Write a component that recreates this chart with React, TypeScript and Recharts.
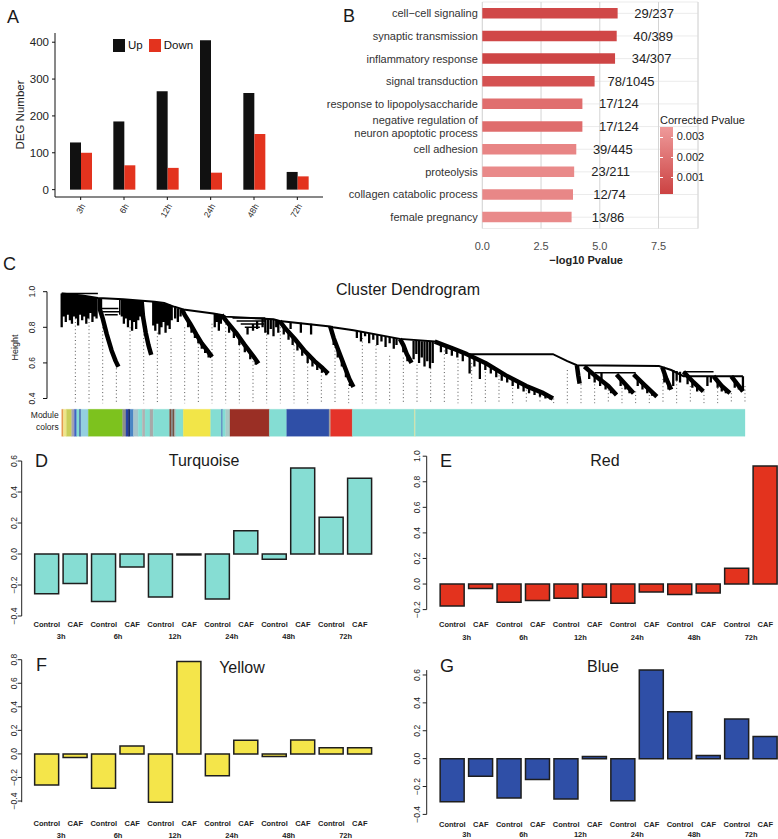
import React from "react";
import {
  Bar, BarChart, CartesianGrid, Cell, ComposedChart, LabelList, Legend, Line, ReferenceLine, XAxis, YAxis,
} from "recharts";

const FONT = '"Liberation Sans", Arial, Helvetica, sans-serif';

// ---- A: DEG numbers per time point
const DEG_TIMES = ["3h", "6h", "12h", "24h", "48h", "72h"];
const DEG_UP = [128, 185, 267, 405, 262, 48];
const DEG_DOWN = [100, 66, 59, 46, 151, 36];
const DEG_TICKS = [0, 100, 200, 300, 400];
const DEG_SERIES = ["Up", "Down"];

// ---- B: GO enrichment
const GO_TERMS = [
  "cell\u2212cell signaling", "synaptic transmission", "inflammatory response", "signal transduction",
  "response to lipopolysaccharide", "negative regulation of\nneuron apoptotic process", "cell adhesion",
  "proteolysis", "collagen catabolic process", "female pregnancy",
];
const GO_LOGP = [5.76, 5.72, 5.65, 4.78, 4.26, 4.26, 4.0, 3.91, 3.86, 3.8];
const GO_RATIO = ["29/237", "40/389", "34/307", "78/1045", "17/124", "17/124", "39/445", "23/211", "12/74", "13/86"];
const GO_FILL = ["#D04848", "#D04747", "#CE4545", "#D55252", "#E06E6E", "#DF6C6C", "#E88585", "#E98A8A", "#E88787", "#E98A8A"];
const GO_TICKS = [0, 2.5, 5, 7.5];
const GO_MINOR = [1.25, 3.75, 6.25, 8.75];
const PVAL_LABELS = ["0.003", "0.002", "0.001"];

// ---- C: dendrogram, leaf position u (0..1000) and merge height h
type Pt = [number, number];
const DENDRO_BACKBONE: Pt[] = [
  [0, 0.99], [30, 0.978], [53, 0.965], [90, 0.957], [136, 0.944], [150, 0.936], [165, 0.915], [178, 0.9],
  [222, 0.878], [234, 0.87], [240, 0.86], [310, 0.845], [319, 0.835], [393, 0.805], [397, 0.8], [427, 0.784],
  [495, 0.735], [546, 0.72], [593, 0.649], [719, 0.649], [740, 0.61], [754, 0.587], [874, 0.582], [892, 0.56],
  [910, 0.525], [997, 0.525],
];
const DENDRO_FANS: Pt[][] = [
  [[56, 0.963], [56, 0.9], [60, 0.85], [66, 0.76], [73, 0.67], [79, 0.61], [83, 0.578]],
  [[117, 0.948], [119, 0.86], [123, 0.77], [127, 0.7], [131, 0.645]],
  [[176, 0.9], [180, 0.87], [188, 0.82], [197, 0.76], [205, 0.71], [213, 0.67], [220, 0.634]],
  [[234, 0.87], [242, 0.83], [255, 0.77], [268, 0.7], [280, 0.64], [288, 0.597]],
  [[319, 0.835], [328, 0.79], [340, 0.74], [355, 0.67], [370, 0.61], [382, 0.57], [390, 0.54]],
  [[393, 0.805], [398, 0.74], [406, 0.66], [414, 0.58], [421, 0.51], [427, 0.465]],
  [[495, 0.735], [500, 0.7], [505, 0.65], [512, 0.6]],
  [[546, 0.72], [570, 0.685], [593, 0.649], [620, 0.6], [650, 0.53], [680, 0.47], [705, 0.43], [719, 0.4]],
  [[754, 0.587], [756, 0.53], [758, 0.484]],
  [[765, 0.58], [780, 0.53], [800, 0.47], [812, 0.42]],
  [[812, 0.535], [825, 0.48], [837, 0.43]],
  [[837, 0.535], [852, 0.48], [871, 0.41]],
  [[879, 0.575], [885, 0.51], [892, 0.45]],
  [[910, 0.55], [925, 0.49], [939, 0.44]],
  [[954, 0.525], [966, 0.47], [978, 0.43]],
  [[980, 0.525], [990, 0.475], [997, 0.44]],
];
// nested horizontal merges
const DENDRO_SHELVES: Pt[][] = [
  [[58, 0.906], [83, 0.906]], [[60, 0.888], [85, 0.888]], [[63, 0.87], [82, 0.87]], [[85, 0.96], [85, 0.87]],
  [[250, 0.852], [298, 0.852]], [[256, 0.835], [298, 0.835]], [[262, 0.818], [296, 0.818]], [[268, 0.8], [290, 0.8]],
  [[780, 0.545], [840, 0.545]], [[910, 0.55], [954, 0.55]], [[0, 0.99], [53, 0.99]],
];
// vertical drips: [u, top, bottom]
const DENDRO_DRIPS: [number, number, number][] = [
  [0, 0.99, 0.8], [3, 0.99, 0.86], [6, 0.988, 0.83], [9, 0.987, 0.87], [12, 0.986, 0.84], [15, 0.985, 0.82],
  [18, 0.984, 0.86], [21, 0.983, 0.85], [24, 0.982, 0.81], [27, 0.98, 0.87], [30, 0.978, 0.84], [33, 0.977, 0.86],
  [36, 0.975, 0.82], [39, 0.973, 0.85], [42, 0.971, 0.88], [45, 0.969, 0.83], [48, 0.967, 0.86], [51, 0.965, 0.85],
  [88, 0.958, 0.86], [91, 0.957, 0.82], [94, 0.956, 0.85], [97, 0.955, 0.8], [100, 0.955, 0.84], [103, 0.954, 0.78],
  [106, 0.953, 0.83], [109, 0.952, 0.79], [112, 0.951, 0.84], [115, 0.95, 0.86],
  [134, 0.944, 0.81], [137, 0.942, 0.78], [140, 0.94, 0.82], [143, 0.938, 0.76], [146, 0.936, 0.8], [149, 0.934, 0.83],
  [152, 0.932, 0.77], [155, 0.93, 0.81], [158, 0.926, 0.79], [161, 0.92, 0.84], [166, 0.912, 0.85], [170, 0.906, 0.83],
  [174, 0.902, 0.86],
  [185, 0.835, 0.8], [190, 0.805, 0.77], [195, 0.775, 0.74], [200, 0.745, 0.71], [205, 0.71, 0.68], [210, 0.685, 0.655],
  [215, 0.66, 0.63], [224, 0.877, 0.8], [227, 0.876, 0.83], [230, 0.874, 0.78], [233, 0.872, 0.82],
  [245, 0.82, 0.77], [252, 0.785, 0.74], [260, 0.75, 0.7], [268, 0.71, 0.66], [276, 0.665, 0.62], [284, 0.62, 0.59],
  [272, 0.8, 0.76], [280, 0.818, 0.78], [286, 0.835, 0.79], [294, 0.852, 0.8], [298, 0.852, 0.77],
  [302, 0.846, 0.76], [306, 0.845, 0.79], [310, 0.844, 0.75], [314, 0.842, 0.8], [317, 0.84, 0.77],
  [325, 0.81, 0.76], [332, 0.78, 0.73], [338, 0.75, 0.7], [345, 0.72, 0.67], [352, 0.685, 0.64], [360, 0.65, 0.6],
  [367, 0.62, 0.58], [374, 0.6, 0.56], [381, 0.57, 0.545], [387, 0.55, 0.53], [335, 0.83, 0.79], [350, 0.826, 0.77],
  [365, 0.82, 0.76], [398, 0.75, 0.7], [404, 0.68, 0.63], [410, 0.62, 0.58], [416, 0.56, 0.52], [422, 0.5, 0.47],
  [432, 0.78, 0.74], [438, 0.776, 0.72], [444, 0.772, 0.75], [450, 0.768, 0.71], [456, 0.764, 0.73], [462, 0.76, 0.7],
  [468, 0.755, 0.72], [474, 0.75, 0.69], [480, 0.745, 0.71], [486, 0.74, 0.68], [490, 0.738, 0.7],
  [500, 0.7, 0.66], [506, 0.65, 0.61], [515, 0.725, 0.62], [519, 0.724, 0.65], [523, 0.723, 0.6], [527, 0.722, 0.63],
  [531, 0.722, 0.58], [535, 0.721, 0.61], [539, 0.72, 0.57], [543, 0.72, 0.6],
  [555, 0.707, 0.66], [563, 0.695, 0.65], [571, 0.684, 0.64], [579, 0.672, 0.63], [587, 0.66, 0.61], [597, 0.642, 0.54],
  [604, 0.63, 0.58], [612, 0.615, 0.51], [620, 0.6, 0.56], [628, 0.582, 0.54], [636, 0.563, 0.52], [644, 0.545, 0.5],
  [652, 0.526, 0.49], [660, 0.51, 0.47], [668, 0.495, 0.455], [676, 0.478, 0.44], [684, 0.465, 0.43], [692, 0.452, 0.42],
  [700, 0.44, 0.41], [708, 0.425, 0.4], [715, 0.41, 0.395],
  [772, 0.555, 0.51], [780, 0.53, 0.49], [788, 0.505, 0.47], [796, 0.48, 0.45], [804, 0.455, 0.43], [790, 0.545, 0.5],
  [818, 0.51, 0.47], [825, 0.48, 0.45], [831, 0.455, 0.43], [843, 0.51, 0.47], [850, 0.485, 0.45], [857, 0.46, 0.43],
  [864, 0.435, 0.415], [882, 0.54, 0.49], [888, 0.48, 0.45], [895, 0.56, 0.47], [900, 0.555, 0.5], [905, 0.55, 0.49],
  [916, 0.525, 0.48], [923, 0.5, 0.46], [930, 0.47, 0.44], [945, 0.525, 0.47], [950, 0.525, 0.49],
  [960, 0.5, 0.46], [966, 0.47, 0.44], [972, 0.45, 0.43], [985, 0.5, 0.46], [991, 0.47, 0.45], [997, 0.525, 0.45],
];
const GUIDE_U = [
  20, 40, 60, 80, 100, 120, 140, 160, 180, 200, 220, 240, 260, 280, 300, 320, 340, 360, 380, 400,
  420, 440, 460, 480, 500, 520, 540, 560, 580, 600, 620, 640, 660, 680, 700, 720, 740, 760, 780, 800,
  820, 840, 860, 880, 900, 920, 940, 960, 980, 1000,
];
const GUIDE_TOP = [
  0.85, 0.85, 0.8, 0.61, 0.8, 0.78, 0.77, 0.74, 0.8, 0.71, 0.82, 0.82, 0.74, 0.63, 0.78, 0.8, 0.74, 0.64, 0.57, 0.73,
  0.5, 0.74, 0.7, 0.64, 0.63, 0.59, 0.57, 0.67, 0.62, 0.6, 0.57, 0.53, 0.5, 0.47, 0.43, 0.4, 0.56, 0.48, 0.54, 0.45,
  0.5, 0.44, 0.42, 0.55, 0.5, 0.47, 0.44, 0.46, 0.43, 0.47,
];
const GUIDE_FOOT = 0.372;
const HEIGHT_TICKS = [0.4, 0.6, 0.8, 1.0];
const U_DOMAIN = [-21.5, 1029.3];

const MODULE_WIDTHS = [
  2.4, 4.6, 7.6, 3.9, 3.5, 4, 2, 11, 50.2, 4.8, 3.5, 2.5, 5, 7, 6, 4, 7.2, 4.8, 24, 2, 3, 2, 2, 11, 40, 16, 1.5,
  4.5, 6.3, 57.6, 25.4, 61.9, 2.4, 31.7, 90.7, 1.5, 482.5,
];
const MODULE_COLORS = [
  "#E59A4E", "#EFE58A", "#C9CF5A", "#A4A4B4", "#3F63C2", "#84DDD3", "#2E4D9E", "#94CFE0", "#7DC21E", "#8E8E8E",
  "#2845A8", "#14235C", "#4A86C5", "#A7C4CC", "#84DDD3", "#B0B0B0", "#84DDD3", "#A8A8A8", "#84DDD3", "#7A3F2E",
  "#8A8A8A", "#6D4A3A", "#A0B8B8", "#84DDD3", "#F2E548", "#84DDD3", "#3A5DB0", "#84DDD3", "#A9CBC6", "#9A2F25",
  "#84DDD3", "#2F4FA7", "#A0A0A0", "#E4332A", "#84DDD3", "#D8E0A0", "#84DDD3",
];

// ---- D-G: module eigengenes
const CONDITIONS = ["Control", "CAF"];
const TIMEPOINTS = ["3h", "6h", "12h", "24h", "48h", "72h"];
const TURQUOISE = [-0.256, -0.19, -0.307, -0.084, -0.277, -0.006, -0.29, 0.15, -0.034, 0.555, 0.237, 0.488];
const RED = [-0.172, -0.034, -0.143, -0.128, -0.112, -0.104, -0.151, -0.063, -0.081, -0.07, 0.123, 0.923];
const YELLOW = [-0.264, -0.031, -0.292, 0.067, -0.41, 0.784, -0.185, 0.115, -0.022, 0.118, 0.053, 0.053];
const BLUE = [-0.309, -0.127, -0.282, -0.15, -0.289, 0.016, -0.302, 0.635, 0.337, 0.023, 0.284, 0.159];

const degData = DEG_TIMES.map((t, i) => ({ time: t, up: DEG_UP[i], down: DEG_DOWN[i] }));
const goData = GO_TERMS.map((t, i) => ({ term: t, logp: GO_LOGP[i], ratio: GO_RATIO[i] }));
const moduleRow: any = { label: "Module colors" };
MODULE_WIDTHS.forEach((w, i) => { moduleRow["s" + i] = w; });

function toRows(key: string, paths: Pt[][]) {
  const rows: any[] = [];
  for (const p of paths) {
    for (const [u, h] of p) rows.push({ u, [key]: h });
    rows.push({ u: p[p.length - 1][0] }); // gap
  }
  return rows;
}
const dendroRows = [
  ...toRows("guide", GUIDE_U.map((u, i) => [[u, GUIDE_TOP[i]], [u, GUIDE_FOOT]] as Pt[])),
  ...toRows("drip", DENDRO_DRIPS.map(([u, a, b]) => [[u, a], [u, b]] as Pt[])),
  ...toRows("shelf", DENDRO_SHELVES),
  ...toRows("main", [DENDRO_BACKBONE]),
  ...toRows("fan", DENDRO_FANS),
];

const fmt1 = (v: number) => (Math.abs(v) < 1e-9 ? "0.0" : v < 0 ? "\u2212" + (-v).toFixed(1) : v.toFixed(1));

const SlantTick = ({ x, y, payload }: any) => (
  <text x={x + 5} y={y + 4} transform={`rotate(-60 ${x + 5} ${y + 4})`} textAnchor="end" fontSize={8.5} fill="#222">
    {payload.value}
  </text>
);

const RotTick = ({ x, y, payload }: any) => (
  <text x={x} y={y} transform={`rotate(-90 ${x} ${y})`} textAnchor="middle" fontSize={8.5} fill="#222">
    {fmt1(payload.value)}
  </text>
);

const TermTick = ({ x, y, payload }: any) => {
  const lines = String(payload.value).split("\n");
  return (
    <text x={x} y={y} textAnchor="end" fontSize={11} fill="#333">
      {lines.map((l, i) => (
        <tspan key={i} x={x} dy={i === 0 ? (lines.length === 1 ? 3.9 : -2.4) : 12.6}>{l}</tspan>
      ))}
    </text>
  );
};

const RatioLabel = ({ x, y, width, height, value }: any) => (
  <text x={x + width + 36.5} y={y + height / 2 + 4.6} textAnchor="middle" fontSize={13} fill="#222">{value}</text>
);

const ModuleTick = ({ x, y }: any) => (
  <text x={x} y={y} textAnchor="end" fontSize={8.5} fill="#222">
    <tspan x={x} dy={-5}>Module</tspan>
    <tspan x={x} dy={11.7}>colors</tspan>
  </text>
);

const DegLegend = ({ payload }: any) => {
  const items = [...(payload ?? [])].sort((a: any, b: any) => DEG_SERIES.indexOf(a.value) - DEG_SERIES.indexOf(b.value));
  return (
    <div style={{ display: "flex", alignItems: "center", fontSize: 11.5, color: "#111", lineHeight: "13px" }}>
      {items.map((p: any) => (
        <span key={p.value} style={{ display: "flex", alignItems: "center", marginRight: 6 }}>
          <span style={{ width: 12, height: 13, background: p.color, display: "inline-block", marginRight: 3 }} />
          {p.value}
        </span>
      ))}
    </div>
  );
};

const PvalLegend = () => (
  <div style={{ position: "relative", width: 110, height: 84, fontSize: 11, color: "#222" }}>
    <div style={{ position: "absolute", left: 0, top: 0, lineHeight: "13px", whiteSpace: "nowrap" }}>Corrected Pvalue</div>
    <div style={{ position: "absolute", left: 0, top: 13.8, width: 13.3, height: 67, background: "linear-gradient(#EE9A9A, #CC4242)" }} />
    {PVAL_LABELS.map((t, i) => (
      <React.Fragment key={t}>
        <div style={{ position: "absolute", left: 0, top: 23.2 + i * 20.3, width: 2.5, height: 1, background: "#fff" }} />
        <div style={{ position: "absolute", left: 10.8, top: 23.2 + i * 20.3, width: 2.5, height: 1, background: "#fff" }} />
        <div style={{ position: "absolute", left: 16.7, top: 16.7 + i * 20.3, lineHeight: "13px" }}>{t}</div>
      </React.Fragment>
    ))}
  </div>
);

function EigenPanel({ left, top, width, height, axisW, plotTop, plotBottom, pad, domain, ticks, values, fill, dy1, dy2, tickGap }: any) {
  const rows = values.map((v: number, i: number) => ({
    key: CONDITIONS[i % 2] + "|" + TIMEPOINTS[Math.floor(i / 2)], v,
  }));
  const GroupTick = ({ x, y, payload }: any) => {
    const [cond, time] = String(payload.value).split("|");
    return (
      <g fontSize={7.5} fontWeight="bold" fill="#222">
        <text x={x} y={y + dy1} textAnchor="middle">{cond}</text>
        {cond === "CAF" && <text x={x - 14.2} y={y + dy2} textAnchor="middle">{time}</text>}
      </g>
    );
  };
  return (
    <div style={{ position: "absolute", left, top }}>
      <BarChart width={width} height={height} data={rows} barSize={24}
        margin={{ top: plotTop, right: 0, bottom: 0, left: 0 }}>
        <XAxis dataKey="key" interval={0} axisLine={false} tickLine={false} tickSize={0} tickMargin={0}
          height={height - plotBottom} padding={{ left: pad, right: pad }} tick={<GroupTick />} />
        <YAxis type="number" width={axisW} domain={domain} ticks={ticks} interval={0}
          axisLine={{ stroke: "#222" }} tickLine={{ stroke: "#222" }} tickSize={4} tickMargin={tickGap} tick={<RotTick />} />
        <Bar dataKey="v" fill={fill} stroke="#1e1e1e" strokeWidth={1.5} isAnimationActive={false} />
      </BarChart>
    </div>
  );
}

const PANEL_TEXT = [
  { t: "A", x: 7, y: 22.5, s: 18 },
  { t: "B", x: 343, y: 21.5, s: 18 },
  { t: "C", x: 3, y: 270, s: 18 },
  { t: "D", x: 35, y: 467, s: 18 },
  { t: "E", x: 440, y: 466.5, s: 18 },
  { t: "F", x: 36, y: 670.5, s: 18 },
  { t: "G", x: 440, y: 672, s: 18 },
  { t: "Cluster Dendrogram", x: 408, y: 294.7, s: 16, a: "middle" },
  { t: "Turquoise", x: 204, y: 466.4, s: 16, a: "middle" },
  { t: "Red", x: 605, y: 466, s: 16, a: "middle" },
  { t: "Yellow", x: 242, y: 672.7, s: 16, a: "middle" },
  { t: "Blue", x: 603, y: 671.7, s: 16, a: "middle" },
];

const lineProps = { dot: false, activeDot: false, isAnimationActive: false, connectNulls: false } as const;

export default function App() {
  return (
    <div style={{ position: "absolute", left: 0, top: 0, width: 778, height: 839, overflow: "hidden", background: "#fff", fontFamily: FONT }}>
      {/* A */}
      <div style={{ position: "absolute", left: 0, top: 0 }}>
        <BarChart width={330} height={225} data={degData} margin={{ top: 33, right: 7, bottom: 0, left: 0 }} barGap={0}>
          <XAxis dataKey="time" height={28} padding={{ left: 4, right: 4 }} interval={0}
            axisLine={{ stroke: "#111" }} tickLine={{ stroke: "#111" }} tickSize={3} tickMargin={2} tick={<SlantTick />} />
          <YAxis width={55} domain={[-20, 425]} ticks={DEG_TICKS} interval={0}
            axisLine={{ stroke: "#111" }} tickLine={{ stroke: "#111" }} tickSize={3} tickMargin={3}
            tick={{ fontSize: 11.5, fill: "#222" }}
            label={{ value: "DEG Number", angle: -90, position: "insideLeft", offset: 20, fontSize: 11.5, fill: "#222", style: { textAnchor: "middle" } }} />
          <Legend layout="horizontal" verticalAlign="middle" align="center" content={<DegLegend />}
            wrapperStyle={{ left: 113, top: 39, width: "auto" }} />
          <Bar dataKey="up" name="Up" fill="#111111" barSize={11} isAnimationActive={false} />
          <Bar dataKey="down" name="Down" fill="#E3331E" barSize={11} isAnimationActive={false} />
        </BarChart>
      </div>

      {/* B */}
      <div style={{ position: "absolute", left: 250, top: 0 }}>
        <BarChart width={528} height={270} data={goData} layout="vertical" margin={{ top: 2, right: 80, bottom: 0, left: 0 }}>
          <XAxis type="number" xAxisId="minor" domain={[0, 9.18]} ticks={GO_MINOR} hide />
          <CartesianGrid xAxisId="minor" horizontal={false} stroke="#F0F0F0" />
          <CartesianGrid stroke="#EBEBEB" horizontal={true} vertical={false} />
          <CartesianGrid stroke="#D4D4D4" horizontal={false} vertical={true} />
          <XAxis type="number" domain={[0, 9.18]} ticks={GO_TICKS} interval={0} height={41.5}
            axisLine={false} tickLine={false} tickSize={0} tickMargin={14}
            tick={{ fontSize: 11, fill: "#4D4D4D" }} tickFormatter={(v: number) => v.toFixed(1)}
            label={{ value: "\u2212log10 Pvalue", position: "insideBottom", offset: 6.5, dx: -4, fontSize: 11, fill: "#222", fontWeight: "bold" }} />
          <YAxis type="category" dataKey="term" width={232.3} interval={0} axisLine={false} tickLine={false}
            tickSize={0} tickMargin={4.5} tick={<TermTick />} />
          <Legend layout="horizontal" verticalAlign="middle" align="center" content={<PvalLegend />}
            wrapperStyle={{ left: 410, top: 113.5, width: "auto" }} />
          <Bar dataKey="logp" barSize={10.5} isAnimationActive={false}>
            {goData.map((_, i) => <Cell key={i} fill={GO_FILL[i]} />)}
            <LabelList dataKey="ratio" content={<RatioLabel />} />
          </Bar>
        </BarChart>
      </div>

      {/* C dendrogram */}
      <div style={{ position: "absolute", left: 0, top: 270 }}>
        <ComposedChart width={778} height={140} data={dendroRows} margin={{ top: 21.7, right: 13, bottom: 6.5, left: 0 }}>
          <XAxis type="number" dataKey="u" domain={U_DOMAIN} hide allowDataOverflow />
          <YAxis type="number" width={47} domain={[0.372, 1.0]} ticks={HEIGHT_TICKS} interval={0} allowDataOverflow
            axisLine={false} tickLine={{ stroke: "#111" }} tickSize={4} tickMargin={8} tick={<RotTick />}
            label={{ value: "Height", angle: -90, position: "insideLeft", offset: 15, fontSize: 9, fill: "#222", style: { textAnchor: "middle" } }} />
          <ReferenceLine segment={[{ x: U_DOMAIN[0], y: 0.4 }, { x: U_DOMAIN[0], y: 1.0 }]} stroke="#111" ifOverflow="visible" />
          <Line dataKey="guide" stroke="#555" strokeWidth={1} strokeDasharray="1 2.6" {...lineProps} />
          <Line dataKey="drip" stroke="#000" strokeWidth={2.3} {...lineProps} />
          <Line dataKey="shelf" stroke="#000" strokeWidth={1.5} {...lineProps} />
          <Line dataKey="main" stroke="#000" strokeWidth={2} {...lineProps} />
          <Line dataKey="fan" stroke="#000" strokeWidth={4.5} strokeLinejoin="round" {...lineProps} />
        </ComposedChart>
      </div>

      {/* C module colors */}
      <div style={{ position: "absolute", left: 0, top: 405 }}>
        <BarChart width={778} height={40} data={[moduleRow]} layout="vertical" barCategoryGap={0}
          margin={{ top: 4.3, right: 33, bottom: 8.3, left: 0 }}>
          <XAxis type="number" domain={[0, 1000]} height={0} tick={false} tickLine={false} axisLine={{ stroke: "#333" }} />
          <XAxis type="number" xAxisId="top" orientation="top" domain={[0, 1000]} height={0} tick={false} tickLine={false} axisLine={{ stroke: "#999" }} />
          <YAxis type="category" dataKey="label" width={61.7} axisLine={false} tickLine={false} tickSize={0} tickMargin={3} tick={<ModuleTick />} />
          {MODULE_WIDTHS.map((_, i) => (
            <Bar key={i} dataKey={"s" + i} stackId="m" fill={MODULE_COLORS[i]} stroke={MODULE_COLORS[i]} strokeWidth={0.3} isAnimationActive={false} />
          ))}
        </BarChart>
      </div>

      {/* D-G */}
      <EigenPanel left={0} top={440} width={385} height={206} axisW={21.7} plotTop={21} plotBottom={176} pad={10.95}
        domain={[-0.4, 0.6]} ticks={[-0.4, -0.2, 0, 0.2, 0.4, 0.6]} values={TURQUOISE} fill="#86DDD3" dy1={10.7} dy2={22.7} tickGap={1} />
      <EigenPanel left={385} top={440} width={406} height={206} axisW={41.7} plotTop={16.2} plotBottom={169.6} pad={11.45}
        domain={[-0.2, 1.0]} ticks={[-0.2, 0, 0.2, 0.4, 0.6, 0.8, 1.0]} values={RED} fill="#E3331E" dy1={17.1} dy2={30.1} tickGap={3} />
      <EigenPanel left={0} top={640} width={385} height={199} axisW={21.7} plotTop={19.7} plotBottom={162.2} pad={10.95}
        domain={[-0.4, 0.8]} ticks={[-0.4, -0.2, 0, 0.2, 0.4, 0.6, 0.8]} values={YELLOW} fill="#F4E54A" dy1={23.8} dy2={35.5} tickGap={1} />
      <EigenPanel left={385} top={640} width={406} height={199} axisW={41.7} plotTop={30.1} plotBottom={174.4} pad={11.45}
        domain={[-0.4, 0.6]} ticks={[-0.4, -0.2, 0, 0.2, 0.4, 0.6]} values={BLUE} fill="#2F4FA7" dy1={12.3} dy2={22.6} tickGap={3} />

      <svg width={778} height={839} style={{ position: "absolute", left: 0, top: 0, pointerEvents: "none" }}>
        {PANEL_TEXT.map((p) => (
          <text key={p.t} x={p.x} y={p.y} fontSize={p.s} fill="#1a1a1a" textAnchor={p.a ?? "start"}>{p.t}</text>
        ))}
      </svg>
    </div>
  );
}
